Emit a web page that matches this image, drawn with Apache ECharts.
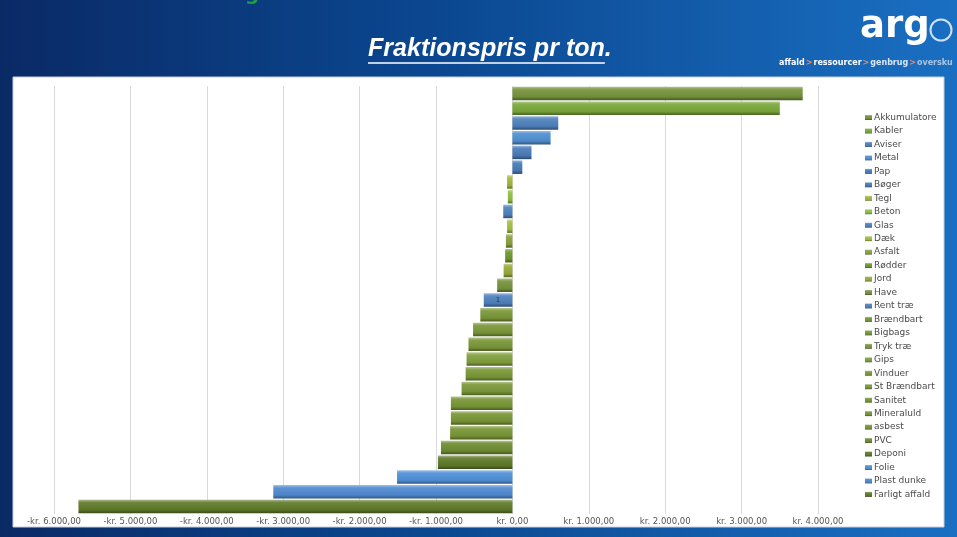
<!DOCTYPE html>
<html>
<head>
<meta charset="utf-8">
<script src="https://cdn.jsdelivr.net/npm/echarts@6/dist/echarts.min.js"></script>
<style>html,body{margin:0;padding:0;background:#fff;}#c{width:957px;height:537px;}</style>
</head>
<body>
<div id="c"></div>
<script>
// ---- data ----
const categories = ['Akkumulatore','Kabler','Aviser','Metal','Pap','Bøger','Tegl','Beton','Glas','Dæk','Asfalt','Rødder','Jord','Have','Rent træ','Brændbart','Bigbags','Tryk træ','Gips','Vinduer','St Brændbart','Sanitet','Mineraluld','asbest','PVC','Deponi','Folie','Plast dunke','Farligt affald'];
const values = [3800, 3500, 600, 500, 250, 130, -70, -60, -120, -70, -85, -95, -115, -200, -375, -420, -515, -575, -600, -612, -665, -805, -805, -815, -935, -975, -1510, -3130, -5680];
const tickMin = -6000, tickMax = 4000, tickStep = 1000;
const barLabels = {'Rent træ': '1'};

// ---- styles ----
const colors = ['#77933c','#7aa83a','#4f81bd','#5090d0','#4a7bb8','#4a7bb8','#a3b83a','#8cc23e','#4f81bd','#a4bf40','#88a23c','#6c982e','#9aaa3c','#76923c','#4f81bd','#7a9838','#7a9838','#7a9838','#80a03c','#7a9838','#7a9838','#789636','#789636','#789636','#6f8c30','#5f7a28','#4f8fd8','#4f8ad0','#5f7a28'];

function shade(hex, f) {
  const n = parseInt(hex.slice(1), 16);
  let r = (n >> 16) & 255, g = (n >> 8) & 255, b = n & 255;
  const t = f > 0 ? 255 : 0, p = Math.abs(f);
  r = Math.round(r + (t - r) * p); g = Math.round(g + (t - g) * p); b = Math.round(b + (t - b) * p);
  return 'rgb(' + r + ',' + g + ',' + b + ')';
}
function grad(c) {
  return new echarts.graphic.LinearGradient(0, 0, 0, 1, [
    {offset: 0, color: shade(c, 0.45)},
    {offset: 0.2, color: shade(c, 0.08)},
    {offset: 0.75, color: shade(c, -0.05)},
    {offset: 1, color: shade(c, -0.4)}
  ]);
}
function fmt(v) {
  const a = Math.abs(v);
  const s = String(Math.round(a)).replace(/\B(?=(\d{3})+(?!\d))/g, '.') + ',00';
  return (v < 0 ? '-' : '') + 'kr. ' + s;
}

// measure title to fit reference width
const cv = document.createElement('canvas').getContext('2d');
const titleFont = (sz) => 'italic bold ' + sz + 'px "Liberation Sans"';
cv.font = titleFont(100);
const fullW = cv.measureText('Fraktionspris pr ton.').width;
const titleSize = 100 * 244 / fullW;
cv.font = titleFont(titleSize);
const ulW = cv.measureText('Fraktionspris pr ton').width;

const chart = echarts.init(document.getElementById('c'), null, {renderer: 'canvas'});

const series = categories.map((name, i) => ({
  name: name,
  type: 'bar',
  barGap: '-100%',
  barWidth: 13.5,
  itemStyle: {color: grad(colors[i])},
  label: barLabels[name] ? {show: true, position: 'inside', formatter: barLabels[name], fontSize: 7, color: '#1c2f55', fontFamily: 'DejaVu Sans'} : {show: false},
  data: values.map((v, j) => j === i ? v : '-'),
  animation: false
}));

chart.setOption({
  animation: false,
  backgroundColor: 'transparent',
  graphic: [
    {type: 'rect', z: -10, shape: {x: 0, y: 0, width: 957, height: 537},
     style: {fill: new echarts.graphic.LinearGradient(0, 0, 1, 0, [
       {offset: 0, color: '#0a2a66'}, {offset: 0.45, color: '#0b4790'}, {offset: 1, color: '#1a6fc2'}])}},
    {type: 'rect', z: -9, shape: {x: 13, y: 77, width: 931, height: 450}, style: {fill: '#ffffff', stroke: '#c8cdd6', lineWidth: 1}},
    {type: 'text', z: 5, x: 245, y: -15, style: {text: 'g', fill: '#1fa040', font: 'bold 20px "DejaVu Sans"'}},
    {type: 'text', z: 5, x: 368, y: 49, style: {text: 'Fraktionspris pr ton.', fill: '#ffffff', font: titleFont(titleSize), textVerticalAlign: 'middle'}},
    {type: 'line', z: 5, shape: {x1: 368, y1: 63, x2: 368 + ulW, y2: 63}, style: {stroke: '#ffffff', lineWidth: 1.5}},
    {type: 'text', z: 5, x: 860, y: 9, style: {text: 'arg', fill: '#ffffff', font: 'bold 37px "DejaVu Sans"'}},
    {type: 'circle', z: 5, shape: {cx: 941, cy: 30, r: 10.5}, style: {fill: 'none', stroke: '#cfe3f7', lineWidth: 2}},
    {type: 'text', z: 5, x: 779, y: 59, style: {
      text: '{a|affald}{s|>}{a|ressourcer}{s|>}{b|genbrug}{s|>}{c|oversku}',
      rich: {
        a: {fill: '#ffffff', font: 'bold 8px "DejaVu Sans"'},
        b: {fill: '#d8e6f4', font: 'bold 8px "DejaVu Sans"'},
        c: {fill: '#a9c4e2', font: 'bold 8px "DejaVu Sans"'},
        s: {fill: '#f08a6a', font: 'bold 8px "DejaVu Sans"', padding: [0, 1, 0, 1]}
      }}}
  ],
  grid: {left: 54, right: 139, top: 86, bottom: 23, containLabel: false},
  legend: {
    orient: 'vertical', left: 860, top: 108,
    itemWidth: 7, itemHeight: 5, itemGap: 4.46,
    icon: 'rect',
    textStyle: {fontSize: 9, lineHeight: 9, color: '#4a4a4a', fontFamily: 'DejaVu Sans', padding: [0, 0, 0, -3]},
    data: categories
  },
  xAxis: {
    type: 'value', min: tickMin, max: tickMax, interval: tickStep,
    axisLine: {show: false}, axisTick: {show: false},
    splitLine: {show: true, lineStyle: {color: '#d9d9d9', width: 1}},
    axisLabel: {formatter: fmt, fontSize: 8.5, color: '#555555', fontFamily: 'DejaVu Sans', margin: 3}
  },
  yAxis: {
    type: 'category', data: categories, inverse: true,
    axisLine: {show: false}, axisTick: {show: false}, axisLabel: {show: false}, splitLine: {show: false}
  },
  series: series
});
</script>
</body>
</html>
